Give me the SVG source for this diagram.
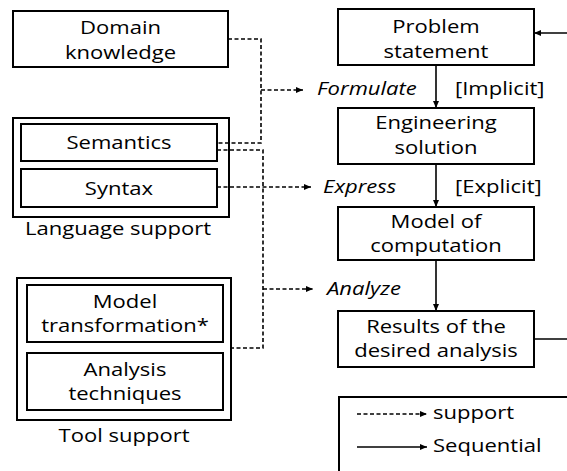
<svg xmlns="http://www.w3.org/2000/svg" width="567" height="471" viewBox="0 0 567 471">
  <style>
    .box { fill: #fff; stroke: #000; stroke-width: 2; }
    .lbl { font-family: "Open Sans", "Noto Sans", sans-serif; font-size: 19px; fill: #000; }
    .c { text-anchor: middle; }
    .it { font-style: italic; }
    .dash { fill: none; stroke: #000; stroke-width: 1.6; stroke-dasharray: 4 2.5; }
    .solid { fill: none; stroke: #000; stroke-width: 1.6; }
  </style>
  <defs>
    <marker id="arrow" markerUnits="userSpaceOnUse" markerWidth="8" markerHeight="7" refX="7" refY="3" orient="auto">
      <path d="M0,0 L7,3 L0,6 z" fill="#000"/>
    </marker>
  </defs>

  <!-- left column: support sources -->
  <g id="domain-knowledge">
    <rect class="box" x="13" y="11" width="215" height="56"/>
    <text class="lbl c" transform="translate(120.5,34) scale(1.16,1)"><tspan x="0" y="0">Domain</tspan><tspan x="0" y="25">knowledge</tspan></text>
  </g>

  <g id="language-support">
    <rect class="box" x="13" y="118" width="216" height="99"/>
    <text class="lbl c" transform="translate(118,235) scale(1.16,1)">Language support</text>
  </g>
  <g id="semantics">
    <rect class="box" x="21" y="124" width="196" height="37"/>
    <text class="lbl c" transform="translate(119,149) scale(1.16,1)">Semantics</text>
  </g>
  <g id="syntax">
    <rect class="box" x="21" y="169" width="196" height="38"/>
    <text class="lbl c" transform="translate(119,195) scale(1.16,1)">Syntax</text>
  </g>

  <g id="tool-support">
    <rect class="box" x="17" y="278" width="214" height="142"/>
    <text class="lbl c" transform="translate(124,442) scale(1.16,1)">Tool support</text>
  </g>
  <g id="model-transformation">
    <rect class="box" x="27" y="285" width="196" height="57"/>
    <text class="lbl c" transform="translate(125,308) scale(1.16,1)"><tspan x="0" y="0">Model</tspan><tspan x="0" y="24">transformation*</tspan></text>
  </g>
  <g id="analysis-techniques">
    <rect class="box" x="27" y="353" width="196" height="57"/>
    <text class="lbl c" transform="translate(125,376) scale(1.16,1)"><tspan x="0" y="0">Analysis</tspan><tspan x="0" y="24">techniques</tspan></text>
  </g>

  <!-- right column: process steps -->
  <g id="problem-statement">
    <rect class="box" x="338" y="9" width="196" height="56"/>
    <text class="lbl c" transform="translate(436,33) scale(1.16,1)"><tspan x="0" y="0">Problem</tspan><tspan x="0" y="25">statement</tspan></text>
  </g>
  <g id="engineering-solution">
    <rect class="box" x="338" y="108" width="196" height="56"/>
    <text class="lbl c" transform="translate(436,129) scale(1.16,1)"><tspan x="0" y="0">Engineering</tspan><tspan x="0" y="25">solution</tspan></text>
  </g>
  <g id="model-of-computation">
    <rect class="box" x="338" y="207" width="196" height="53"/>
    <text class="lbl c" transform="translate(436,228) scale(1.16,1)"><tspan x="0" y="0">Model of</tspan><tspan x="0" y="24">computation</tspan></text>
  </g>
  <g id="results">
    <rect class="box" x="338" y="311" width="196" height="56"/>
    <text class="lbl c" transform="translate(436,333) scale(1.16,1)"><tspan x="0" y="0">Results of the</tspan><tspan x="0" y="24">desired analysis</tspan></text>
  </g>

  <!-- legend -->
  <g id="legend">
    <rect class="box" x="339" y="397" width="240" height="90"/>
    <path class="dash" d="M357,414 H427" marker-end="url(#arrow)"/>
    <text class="lbl" transform="translate(433,419) scale(1.16,1)">support</text>
    <path class="solid" d="M357,447 H427" marker-end="url(#arrow)"/>
    <text class="lbl" transform="translate(433,452) scale(1.16,1)">Sequential</text>
  </g>

  <!-- connectors -->
  <g id="connectors">
    <!-- support bus: domain knowledge + semantics -> formulate -->
    <path class="dash" d="M228,39 H261 V143 H217"/>
    <path class="dash" d="M261,90 H303" marker-end="url(#arrow)"/>
    <!-- syntax -> express -->
    <path class="dash" d="M217,187 H311" marker-end="url(#arrow)"/>
    <!-- semantics + tool support -> analyze -->
    <path class="dash" d="M217,150 H263 V348 H231"/>
    <path class="dash" d="M263,289 H313" marker-end="url(#arrow)"/>

    <!-- sequential flow -->
    <path class="solid" d="M436,65 V108" marker-end="url(#arrow)"/>
    <path class="solid" d="M436,164 V207" marker-end="url(#arrow)"/>
    <path class="solid" d="M436,260 V311" marker-end="url(#arrow)"/>
    <!-- feedback loop -->
    <path class="solid" d="M567,33 H534" marker-end="url(#arrow)"/>
    <path class="solid" d="M534,339 H567"/>

    <!-- step labels -->
    <text class="lbl it" transform="translate(317,95) scale(1.16,1)">Formulate</text>
    <text class="lbl" transform="translate(455,95) scale(1.16,1)">[Implicit]</text>
    <text class="lbl it" transform="translate(323,193) scale(1.16,1)">Express</text>
    <text class="lbl" transform="translate(455,193) scale(1.16,1)">[Explicit]</text>
    <text class="lbl it" transform="translate(327,295) scale(1.16,1)">Analyze</text>
  </g>
</svg>
